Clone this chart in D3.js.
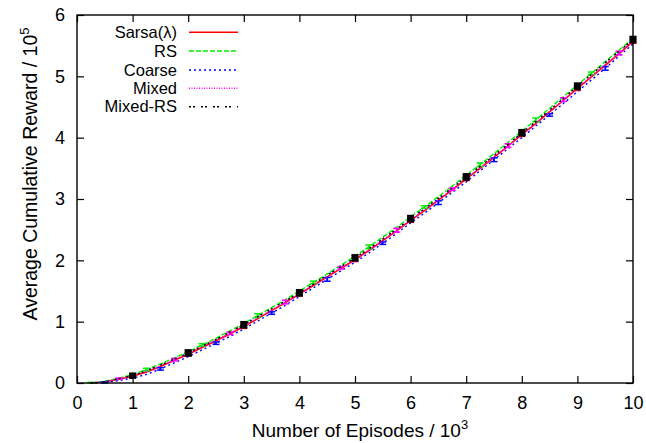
<!DOCTYPE html>
<html>
<head>
<meta charset="utf-8">
<script src="https://cdn.jsdelivr.net/npm/d3@7"></script>
<style>
  html, body { margin: 0; padding: 0; background: #fff; }
  svg { display: block; font-family: "Liberation Sans", Arial, sans-serif; }
</style>
</head>
<body>
<svg id="chart" width="646" height="443"></svg>
<script>
// Episodes (in thousands) at which the averaged reward was recorded
const episodes = [0.25,0.5,0.75,1,1.25,1.5,1.75,2,2.25,2.5,2.75,3,3.25,3.5,3.75,4,4.25,4.5,4.75,5,
                  5.25,5.5,5.75,6,6.25,6.5,6.75,7,7.25,7.5,7.75,8,8.25,8.5,8.75,9,9.25,9.5,9.75,10];

// Average cumulative reward (x 10^5) for each learner
const sarsa   = [0.00,0.02,0.06,0.11,0.18,0.27,0.37,0.47,0.58,0.69,0.80,0.92,1.05,1.18,1.31,1.45,1.59,1.73,1.87,2.01,
                 2.16,2.32,2.48,2.65,2.81,2.98,3.15,3.33,3.50,3.68,3.86,4.05,4.23,4.42,4.61,4.80,4.99,5.18,5.37,5.57];
const rs      = [0.00,0.03,0.08,0.14,0.22,0.31,0.41,0.51,0.62,0.73,0.85,0.97,1.10,1.23,1.36,1.50,1.64,1.78,1.92,2.07,
                 2.22,2.38,2.54,2.71,2.87,3.04,3.21,3.39,3.56,3.74,3.92,4.11,4.29,4.48,4.67,4.86,5.05,5.24,5.43,5.62];
const coarse  = [0.00,0.01,0.04,0.08,0.14,0.23,0.33,0.43,0.54,0.65,0.76,0.88,1.01,1.14,1.27,1.41,1.55,1.69,1.83,1.97,
                 2.12,2.28,2.44,2.61,2.77,2.94,3.11,3.28,3.46,3.64,3.82,4.00,4.19,4.37,4.56,4.75,4.94,5.13,5.33,5.53];
const mixed   = [0.00,0.02,0.07,0.12,0.19,0.28,0.38,0.48,0.59,0.70,0.81,0.93,1.06,1.19,1.32,1.46,1.60,1.74,1.88,2.02,
                 2.17,2.33,2.49,2.66,2.82,2.99,3.16,3.34,3.51,3.69,3.87,4.06,4.24,4.43,4.62,4.81,5.00,5.19,5.38,5.58];
const mixedRS = [0.00,0.02,0.07,0.12,0.20,0.29,0.39,0.49,0.60,0.71,0.83,0.95,1.08,1.21,1.34,1.47,1.61,1.76,1.90,2.04,
                 2.19,2.35,2.51,2.68,2.84,3.01,3.18,3.36,3.53,3.71,3.89,4.08,4.26,4.45,4.64,4.84,5.03,5.22,5.41,5.60];

// Standard error (x 10^5) at the ten checkpoints carrying an error bar
const sarsaErr   = [0.02,0.03,0.03,0.03,0.03,0.03,0.03,0.03,0.03,0.03];
const rsErr      = [0.01,0.02,0.02,0.03,0.02,0.03,0.02,0.03,0.03,0.02];
const coarseErr  = [0.01,0.02,0.02,0.02,0.03,0.02,0.03,0.03,0.02,0.03];
const mixedErr   = [0.01,0.02,0.02,0.03,0.02,0.03,0.02,0.03,0.03,0.03];
const mixedRSErr = [0.04,0.05,0.05,0.05,0.05,0.05,0.05,0.05,0.05,0.05];

const seriesNames = ["Sarsa(\u03bb)", "RS", "Coarse", "Mixed", "Mixed-RS"];
const xTicks = [0,1,2,3,4,5,6,7,8,9,10];
const yTicks = [0,1,2,3,4,5,6];

const series = [
  { name: seriesNames[0], values: sarsa,   err: sarsaErr,   offset: 3, color: "#ff0000", dash: null,      width: 1.6 },
  { name: seriesNames[1], values: rs,      err: rsErr,      offset: 0, color: "#00ee00", dash: "5,2",     width: 1.4 },
  { name: seriesNames[2], values: coarse,  err: coarseErr,  offset: 1, color: "#0000ff", dash: "2,3",     width: 1.4 },
  { name: seriesNames[3], values: mixed,   err: mixedErr,   offset: 2, color: "#ff00ff", dash: "1,1.5",   width: 1.4 },
  { name: seriesNames[4], values: mixedRS, err: mixedRSErr, offset: 3, color: "#000000", dash: "2,2,2,6", width: 1.4 }
];

const svg = d3.select("#chart");
const m = { left: 77, right: 633, top: 15, bottom: 383 };

const x = d3.scaleLinear().domain([0, 10]).range([m.left, m.right]);
const y = d3.scaleLinear().domain([0, 6]).range([m.bottom, m.top]);

const tick = 7;
const FONT = 18;
const axisStyle = g => {
  g.select(".domain").remove();
  g.selectAll("line").attr("stroke", "#000").attr("stroke-width", 1.2);
  g.selectAll("text").attr("font-size", FONT).attr("fill", "#000")
    .attr("font-family", "'Liberation Sans', Arial, sans-serif");
};

svg.append("g").attr("transform", `translate(0,${m.bottom})`)
  .call(d3.axisBottom(x).tickValues(xTicks).tickSize(-tick).tickPadding(13).tickFormat(d3.format("d")))
  .call(axisStyle);
svg.append("g").attr("transform", `translate(0,${m.top})`)
  .call(d3.axisTop(x).tickValues(xTicks).tickSize(-tick).tickFormat(""))
  .call(axisStyle);
svg.append("g").attr("transform", `translate(${m.left},0)`)
  .call(d3.axisLeft(y).tickValues(yTicks).tickSize(-tick).tickPadding(12).tickFormat(d3.format("d")))
  .call(axisStyle);
svg.append("g").attr("transform", `translate(${m.right},0)`)
  .call(d3.axisRight(y).tickValues(yTicks).tickSize(-tick).tickFormat(""))
  .call(axisStyle);

// Curves
const line = d3.line().x((d, i) => x(episodes[i])).y(d => y(d));
const plot = svg.append("g");

series.forEach(s => {
  plot.append("path")
    .attr("d", line(s.values))
    .attr("fill", "none")
    .attr("stroke", s.color)
    .attr("stroke-width", s.width)
    .attr("stroke-dasharray", s.dash);

  // error bars every 1000 episodes, staggered per series
  const pts = s.values.map((v, i) => ({ i, v })).filter(d => d.i % 4 === s.offset);
  const cap = 3.5;
  const eb = plot.append("g").attr("stroke", s.color).attr("stroke-width", 1.5);
  pts.forEach((d, k) => {
    const e = s.err[k];
    const cx = x(episodes[d.i]);
    const y0 = y(Math.max(0, d.v - e)), y1 = y(d.v + e);
    eb.append("line").attr("x1", cx).attr("x2", cx).attr("y1", y0).attr("y2", y1);
    eb.append("line").attr("x1", cx - cap).attr("x2", cx + cap).attr("y1", y0).attr("y2", y0);
    eb.append("line").attr("x1", cx - cap).attr("x2", cx + cap).attr("y1", y1).attr("y2", y1);
    if (s.color === "#000000") {
      eb.append("rect").attr("x", cx - cap).attr("y", y1).attr("width", 2 * cap).attr("height", y0 - y1)
        .attr("fill", s.color).attr("stroke", "none");
    }
  });
});

// Frame
svg.append("rect")
  .attr("x", m.left).attr("y", m.top)
  .attr("width", m.right - m.left).attr("height", m.bottom - m.top)
  .attr("fill", "none").attr("stroke", "#000").attr("stroke-width", 1.4);

// Legend
const legend = svg.append("g");
const rowY = [32.3, 51, 70, 88.3, 106.7];
series.forEach((s, i) => {
  legend.append("text")
    .attr("x", 177).attr("y", rowY[i] + 5.5)
    .attr("text-anchor", "end")
    .attr("font-size", 16.5)
    .text(s.name);
  legend.append("line")
    .attr("x1", 189).attr("x2", 238)
    .attr("y1", rowY[i]).attr("y2", rowY[i])
    .attr("stroke", s.color)
    .attr("stroke-width", s.width)
    .attr("stroke-dasharray", s.dash);
});

// Axis titles
const xt = svg.append("text")
  .attr("x", 360).attr("y", 437)
  .attr("text-anchor", "middle").attr("font-size", 19);
xt.append("tspan").text("Number of Episodes / 10");
xt.append("tspan").attr("dy", -8).attr("font-size", 13).text("3");

const yt = svg.append("text")
  .attr("transform", `translate(37,174) rotate(-90)`)
  .attr("text-anchor", "middle").attr("font-size", 19.5);
yt.append("tspan").text("Average Cumulative Reward / 10");
yt.append("tspan").attr("dy", -8).attr("font-size", 13).text("5");
</script>
</body>
</html>
